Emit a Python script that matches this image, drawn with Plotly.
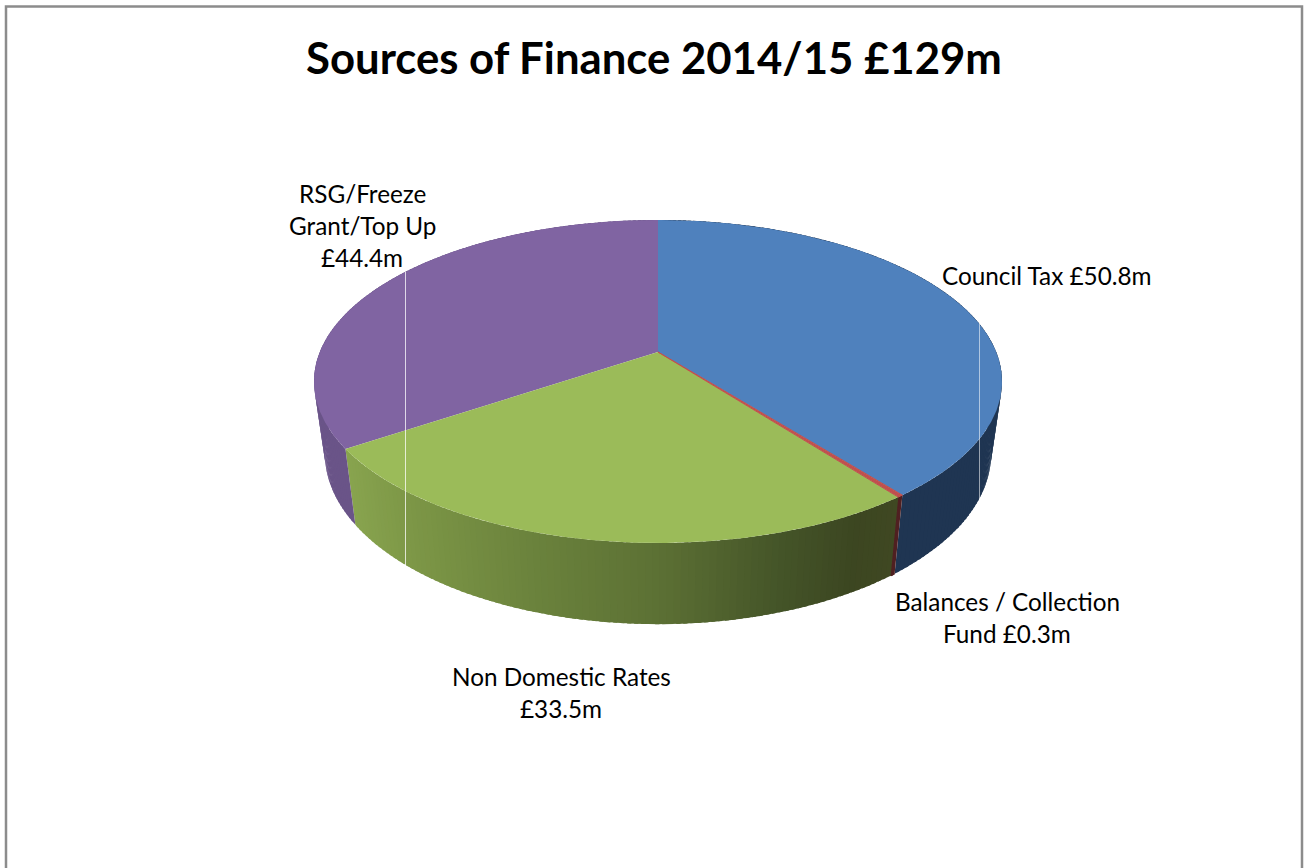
import math
import numpy as np
import plotly.graph_objects as go

# Funding sources in clockwise order from twelve o'clock, in £m
categories = ["Council Tax", "Balances / Collection Fund", "Non Domestic Rates", "RSG/Freeze Grant/Top Up"]
values = [50.8, 0.3, 33.5, 44.4]
label_lines = [
    ["Council Tax £50.8m"],
    ["Balances / Collection", "Fund £0.3m"],
    ["Non Domestic Rates", "£33.5m"],
    ["RSG/Freeze", "Grant/Top Up", "£44.4m"],
]
title_text = "Sources of Finance 2014/15 £129m"

top_colors = ["#4F81BD", "#C0504D", "#9BBB59", "#8064A2"]
# Wall shading for each slice: (screen x, r, g, b) stops
wall_stops = [
    [(0, 31, 53, 82), (1308, 31, 53, 82)],
    [(0, 80, 32, 34), (1308, 80, 32, 34)],
    [(345, 138, 166, 80), (420, 124, 150, 70), (540, 106, 130, 60), (660, 92, 112, 52),
     (780, 68, 84, 40), (850, 60, 70, 33), (900, 64, 72, 34)],
    [(0, 106, 84, 136), (1308, 106, 84, 136)],
]
label_anchor_x = [1046.5, 1007, 561, 362]
label_anchor_y = [275, 601, 676, 193]
label_pitch = 32
thin_slice = 1  # index of the slice that needs an outline to stay legible

# Perspective model of the disc: rim point at clockwise angle t maps through k
CX = 658
K = 0.1827
TOP = dict(y0=352, a=338.2, b=156.1)
BOTTOM = dict(y0=422.5, a=327.5, b=164.8)


def project(theta, rim):
    u, v = np.sin(theta), np.cos(theta)
    d = 1 + K * v
    return CX + rim["a"] * u / d, rim["y0"] - rim["b"] * v / d


def wall_color(stops, x):
    xs = [s[0] for s in stops]
    rgb = [int(round(np.interp(x, xs, [s[i] for s in stops]))) for i in (1, 2, 3)]
    return f"rgb({rgb[0]},{rgb[1]},{rgb[2]})"


def polygon(xs, ys, color, stroke=0):
    return go.Scatter(x=xs, y=ys, mode="lines", fill="toself", fillcolor=color,
                      line=dict(width=stroke, color=color), hoverinfo="skip", showlegend=False)


total = sum(values)
edges = np.concatenate([[0], np.cumsum(values)]) / total * 2 * math.pi

fig = go.Figure()

# Side walls, split into narrow bands so the shading can vary along the rim
for i in range(len(values)):
    start, end = edges[i], edges[i + 1]
    bands = max(2, int((end - start) / math.radians(1.0)))
    t = np.linspace(start, end, bands + 1)
    for j in range(bands):
        seg = np.linspace(t[j], min(end, t[j + 1] + (t[1] - t[0]) * 0.6), 4)
        xt, yt = project(seg, TOP)
        xb, yb = project(seg[::-1], BOTTOM)
        xm = float(project(np.array([(t[j] + t[j + 1]) / 2]), BOTTOM)[0][0])
        fig.add_trace(polygon(np.concatenate([xt, xb]), np.concatenate([yt, yb]),
                              wall_color(wall_stops[i], xm),
                              stroke=1.5 if i == thin_slice else 0))

# Top face wedges, largest first so the thin slice stays visible
for i in sorted(range(len(values)), key=lambda n: -values[n]):
    seg = np.linspace(edges[i], edges[i + 1], max(3, int((edges[i + 1] - edges[i]) * 80)))
    xt, yt = project(seg, TOP)
    fig.add_trace(polygon(np.concatenate([[CX], xt, [CX]]),
                          np.concatenate([[TOP["y0"]], yt, [TOP["y0"]]]),
                          top_colors[i], stroke=1.0 if i == thin_slice else 0))

annotations = [dict(x=653.5, y=56.5, text=f"<b>{title_text}</b>", showarrow=False,
                    font=dict(family="Lato", size=43.7, color="#000000"),
                    xanchor="center", yanchor="middle")]
for lines, ax, ay in zip(label_lines, label_anchor_x, label_anchor_y):
    for n, line in enumerate(lines):
        annotations.append(dict(x=ax, y=ay + n * label_pitch, text=line, showarrow=False,
                                font=dict(family="Lato", size=24.3, color="#000000"),
                                xanchor="center", yanchor="middle"))

shapes = [
    dict(type="rect", x0=6, y0=6.5, x1=1302, y1=900,
         line=dict(color="#8C8C8C", width=2.5), layer="below"),
    dict(type="line", x0=405.5, y0=272, x1=405.5, y1=566,
         line=dict(color="rgba(255,255,255,0.75)", width=1)),
    dict(type="line", x0=979.5, y0=323, x1=979.5, y1=502,
         line=dict(color="rgba(255,255,255,0.55)", width=1)),
]

fig.update_layout(
    width=1308, height=868, margin=dict(l=0, r=0, t=0, b=0),
    paper_bgcolor="#FFFFFF", plot_bgcolor="#FFFFFF",
    xaxis=dict(range=[0, 1308], visible=False, fixedrange=True),
    yaxis=dict(range=[868, 0], visible=False, fixedrange=True),
    annotations=annotations, shapes=shapes, showlegend=False,
)

fig.write_html("out.html")
